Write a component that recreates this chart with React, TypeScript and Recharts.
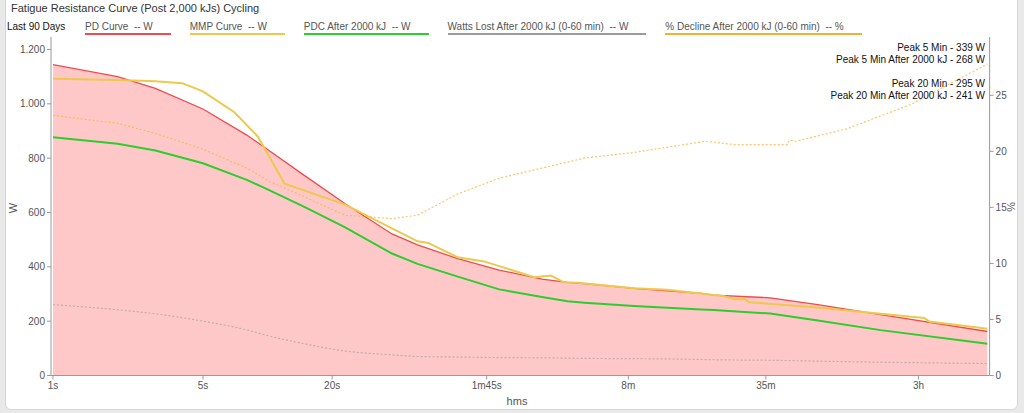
import React from 'react';
import { ComposedChart, Area, Line, XAxis, YAxis } from 'recharts';

const FONT = '"Liberation Sans", Arial, Helvetica, sans-serif';

// shared time grid (seconds) for the model curves
const modelSeconds = [1, 2, 3, 5, 8, 10, 15, 23, 38, 50, 77, 120, 190, 250, 300, 510, 1050, 1200, 2200, 3600, 7200, 22680];
const pdWatts = [1144, 1100, 1057, 981, 885, 832, 734, 632, 521, 481, 430, 388, 355, 343, 338, 321, 302, 296, 286, 262, 224, 162];
const pdcWatts = [877, 853, 828, 781, 720, 685, 619, 545, 449, 411, 364, 317, 289, 273, 268, 256, 243, 241, 228, 203, 167, 117];
const wattsLost = [261, 242, 227, 200, 168, 147, 116, 90, 76, 70, 68, 66, 65, 64, 63, 62, 59, 58, 56, 53, 49, 44];

// mean maximal power
const mmpSeconds = [1, 2, 3, 4, 5, 7, 9, 12, 23, 50, 56, 77, 102, 175, 209, 241, 279, 512, 731, 1046, 1343, 1496, 1665, 1757, 3530, 7215, 11480, 12110, 22680];
const mmpWatts = [1092, 1088, 1083, 1076, 1046, 969, 880, 706, 629, 494, 488, 435, 420, 362, 368, 343, 341, 321, 316, 302, 292, 281, 282, 270, 251, 227, 212, 199, 172];

// % decline after 2000 kJ
const declineSeconds = [1, 2, 3, 5, 8, 10, 15, 23, 38, 50, 77, 120, 190, 300, 510, 1100, 1500, 2650, 2700, 2900, 5000, 10000, 22680];
const declinePct = [23.2, 22.5, 21.6, 20.2, 18.5, 17.4, 15.9, 14.3, 14.0, 14.3, 16.2, 17.6, 18.5, 19.4, 19.9, 20.9, 20.6, 20.6, 21.0, 20.9, 22.0, 24.2, 27.8];

const xTickSeconds = [1, 5, 20, 105, 480, 2100, 10800];
const xTickLabels = ['1s', '5s', '20s', '1m45s', '8m', '35m', '3h'];
const wTicks = [0, 200, 400, 600, 800, 1000, 1200];
const pctTicks = [0, 5, 10, 15, 20, 25];

const legendNames = [
  'PD Curve  -- W',
  'MMP Curve  -- W',
  'PDC After 2000 kJ  -- W',
  'Watts Lost After 2000 kJ (0-60 min)  -- W',
  '% Decline After 2000 kJ (0-60 min)  -- %',
];
const legendColors = ['#f24a4a', '#ecc94b', '#2ecc2e', '#9a9a9a', '#f0b030'];

const peakLines = [
  ['Peak 5 Min - 339 W', 'Peak 5 Min After 2000 kJ - 268 W'],
  ['Peak 20 Min - 295 W', 'Peak 20 Min After 2000 kJ - 241 W'],
];

const rows = (secs: number[], vals: number[]) => secs.map((t, i) => ({ t, v: vals[i] }));

const pdData = rows(modelSeconds, pdWatts);
const pdcData = rows(modelSeconds, pdcWatts);
const lostData = rows(modelSeconds, wattsLost);
const mmpData = rows(mmpSeconds, mmpWatts);
const declineData = rows(declineSeconds, declinePct);

const fmtW = (v: number) =>
  v >= 1000 ? `${Math.floor(v / 1000)}.${String(v % 1000).padStart(3, '0')}` : String(v);
const fmtT = (v: number) => {
  const i = xTickSeconds.indexOf(v);
  return i >= 0 ? xTickLabels[i] : '';
};

const tickStyle = { fill: '#555', fontSize: 10, fontFamily: FONT };

export default function App() {
  return (
    <div
      style={{
        position: 'fixed',
        left: 0,
        top: 0,
        width: 1024,
        height: 413,
        background: '#e9e9e9',
        overflow: 'hidden',
        fontFamily: FONT,
      }}
    >
      <div
        style={{
          position: 'absolute',
          left: 5,
          top: -8,
          width: 1011,
          height: 416,
          background: '#fff',
          border: '1px solid #d6d6d6',
          borderRadius: 6,
        }}
      />
      <div style={{ position: 'absolute', left: 11, top: 1, fontSize: 11, lineHeight: '14px', color: '#333' }}>
        Fatigue Resistance Curve (Post 2,000 kJs) Cycling
      </div>
      <div style={{ position: 'absolute', left: 7, top: 21, fontSize: 10, lineHeight: '12px', color: '#111' }}>
        Last 90 Days
      </div>
      <div style={{ position: 'absolute', left: 85, top: 21, display: 'flex', gap: 19 }}>
        {legendNames.map((n, i) => (
          <div
            key={n}
            style={{
              fontSize: 10,
              lineHeight: '12px',
              color: '#555',
              whiteSpace: 'pre',
              paddingRight: 18,
              borderBottom: `2px solid ${legendColors[i]}`,
            }}
          >
            {n}
          </div>
        ))}
      </div>

      <div style={{ position: 'absolute', left: 0, top: 0 }}>
        <ComposedChart width={1024} height={413} margin={{ top: 37, right: 0, bottom: 0, left: 0 }}>
          <XAxis
            dataKey="t"
            type="number"
            scale="log"
            domain={[1, 22680]}
            allowDataOverflow
            ticks={xTickSeconds}
            interval={0}
            tickFormatter={fmtT}
            padding={{ left: 2, right: 2 }}
            height={37.5}
            tickSize={4}
            stroke="#999"
            tick={tickStyle}
          />
          <YAxis
            yAxisId="w"
            domain={[0, 1246]}
            ticks={wTicks}
            interval={0}
            tickFormatter={fmtW}
            width={51}
            tickSize={4}
            stroke="#999"
            tick={tickStyle}
          />
          <YAxis
            yAxisId="pct"
            orientation="right"
            domain={[0, 30.2]}
            ticks={pctTicks}
            interval={0}
            width={34.4}
            tickSize={4}
            stroke="#999"
            tick={tickStyle}
          />
          <Area
            yAxisId="w"
            data={pdData}
            dataKey="v"
            type="linear"
            stroke="none"
            fill="#ffc8c8"
            fillOpacity={1}
            isAnimationActive={false}
          />
          <Line
            yAxisId="w"
            data={lostData}
            dataKey="v"
            type="monotone"
            stroke="#999"
            strokeOpacity={0.6}
            strokeWidth={1.2}
            strokeDasharray="2 2"
            dot={false}
            isAnimationActive={false}
          />
          <Line
            yAxisId="pct"
            data={declineData}
            dataKey="v"
            type="linear"
            stroke="#f5b942"
            strokeOpacity={0.8}
            strokeWidth={1.2}
            strokeDasharray="2 2"
            dot={false}
            isAnimationActive={false}
          />
          <Line
            yAxisId="w"
            data={pdcData}
            dataKey="v"
            type="linear"
            stroke="#2ecc2e"
            strokeWidth={2}
            dot={false}
            isAnimationActive={false}
          />
          <Line
            yAxisId="w"
            data={pdData}
            dataKey="v"
            type="linear"
            stroke="#f24a4a"
            strokeWidth={1.3}
            dot={false}
            isAnimationActive={false}
          />
          <Line
            yAxisId="w"
            data={mmpData}
            dataKey="v"
            type="linear"
            stroke="#ecc94b"
            strokeWidth={2}
            dot={false}
            isAnimationActive={false}
          />
        </ComposedChart>
      </div>

      {peakLines.map((block, b) => (
        <div
          key={b}
          style={{
            position: 'absolute',
            right: 1024 - 985,
            top: b === 0 ? 42 : 78,
            textAlign: 'right',
            fontSize: 10,
            lineHeight: '12.4px',
            color: '#111',
            whiteSpace: 'nowrap',
          }}
        >
          {block.map((l) => (
            <div key={l}>{l}</div>
          ))}
        </div>
      ))}

      <div
        style={{
          position: 'absolute',
          left: 13,
          top: 208,
          fontSize: 11,
          color: '#555',
          transform: 'translate(-50%, -50%) rotate(-90deg)',
        }}
      >
        W
      </div>
      <div
        style={{
          position: 'absolute',
          left: 1011,
          top: 207,
          fontSize: 11,
          color: '#555',
          transform: 'translate(-50%, -50%) rotate(90deg)',
        }}
      >
        %
      </div>
      <div
        style={{
          position: 'absolute',
          left: 517,
          top: 401,
          fontSize: 11,
          color: '#555',
          transform: 'translate(-50%, -50%)',
        }}
      >
        hms
      </div>
    </div>
  );
}
